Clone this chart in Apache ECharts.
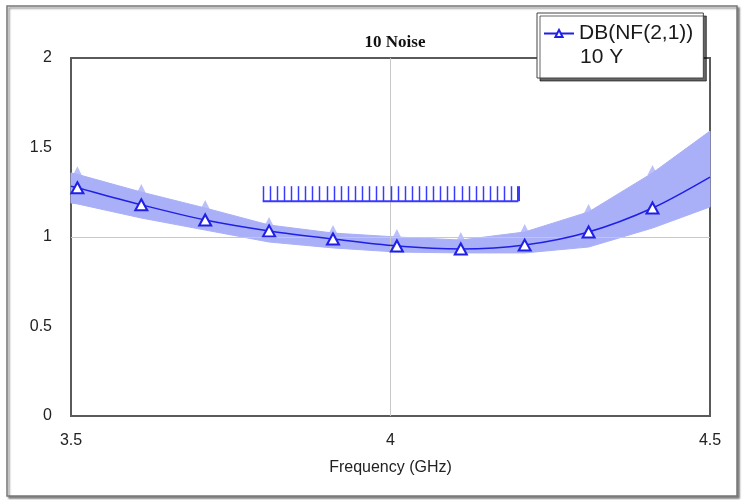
<!DOCTYPE html>
<html>
<head>
<meta charset="utf-8">
<script src="https://cdn.jsdelivr.net/npm/echarts@6/dist/echarts.min.js"></script>
<style>
  html, body { margin: 0; padding: 0; background: #fff; }
  #chart { width: 743px; height: 500px; }
</style>
</head>
<body>
<div id="chart"></div>
<script>
// Frequency sweep (GHz) and nominal noise figure (dB)
const freq = [3.5, 3.51, 3.61, 3.71, 3.81, 3.91, 4.01, 4.11, 4.21, 4.31, 4.41, 4.5];
const nfNominal = [1.284, 1.275, 1.18, 1.095, 1.034, 0.989, 0.95, 0.933, 0.955, 1.028, 1.162, 1.335];
// Spread of the yield traces: upper and lower envelope
const nfUpper = [1.358, 1.35, 1.251, 1.162, 1.067, 1.022, 1.0, 0.983, 1.028, 1.14, 1.358, 1.592];
const nfLower = [1.19, 1.185, 1.106, 1.039, 0.972, 0.939, 0.916, 0.911, 0.911, 0.944, 1.05, 1.168];
// Optimisation goal: NF below 1.2 dB between 3.8 and 4.2 GHz
const goalRange = [3.8, 4.2];
const goalLevel = 1.2;
// Axis ticks
const xTicks = [3.5, 4, 4.5];
const yTicks = [0, 0.5, 1, 1.5, 2];

const BLUE = '#1f1fe6';
const BAND = '#aab0f7';
const LABEL_FONT = 'Liberation Sans';

const chart = echarts.init(document.getElementById('chart'), null, { renderer: 'canvas' });

const lineData = freq.map((f, i) => ({
  value: [f, nfNominal[i]],
  symbol: (i > 0 && i < freq.length - 1) ? 'emptyTriangle' : 'none'
}));

const spikeData = freq.slice(1, -1).map((f, i) => [f, nfUpper[i + 1]]);

const option = {
  animation: false,
  backgroundColor: '#fff',
  title: {
    text: '10 Noise',
    left: 390, top: 29,
    textAlign: 'center',
    textStyle: { fontFamily: 'Liberation Serif', fontWeight: 'bold', fontSize: 17, color: '#111' }
  },
  legend: {
    data: ['DB(NF(2,1))'],
    left: 537, top: 13,
    orient: 'vertical',
    padding: [10, 10, 34, 6],
    itemWidth: 30, itemHeight: 9, itemGap: 4,
    backgroundColor: '#fff',
    borderColor: '#444', borderWidth: 1,
    shadowColor: 'rgba(0,0,0,0.6)', shadowOffsetX: 3, shadowOffsetY: 3, shadowBlur: 0,
    textStyle: { fontFamily: 'Liberation Sans', fontSize: 21, color: '#1a1a1a' }
  },
  grid: {
    left: 71, right: 33, top: 58, bottom: 84,
    show: true, borderColor: '#5a5a5a', borderWidth: 2, backgroundColor: '#fff', z: 1
  },
  xAxis: {
    type: 'value', min: 3.5, max: 4.5, interval: 0.5,
    name: 'Frequency (GHz)', nameLocation: 'middle', nameGap: 44,
    nameTextStyle: { fontFamily: 'Liberation Sans', fontSize: 16, color: '#222' },
    axisLine: { show: false }, axisTick: { show: false }, splitLine: { show: false },
    axisLabel: {
      margin: 17, fontFamily: LABEL_FONT, fontSize: 16, color: '#222',
      formatter: v => (xTicks.includes(v) ? String(v) : '')
    }
  },
  yAxis: {
    type: 'value', min: 0, max: 2, interval: 0.5,
    axisLine: { show: false }, axisTick: { show: false }, splitLine: { show: false },
    axisLabel: {
      margin: 19, fontFamily: LABEL_FONT, fontSize: 16, color: '#222',
      formatter: v => (yTicks.includes(v) ? String(v) : '')
    }
  },
  graphic: [
    {
      type: 'rect', z: -10, silent: true,
      shape: { x: 7, y: 6, width: 730, height: 490 },
      style: { fill: '#fff', stroke: '#777', lineWidth: 1.5,
        shadowColor: 'rgba(0,0,0,0.45)', shadowOffsetX: 2, shadowOffsetY: 2, shadowBlur: 2 }
    },
    {
      type: 'text', z: 100, left: 580, top: 47,
      style: { text: '10 Y', fontFamily: 'Liberation Sans', fontSize: 21, fill: '#1a1a1a' }
    }
  ],
  series: [
    {
      // grid reference lines at 4 GHz and 1 dB
      type: 'line', data: [], silent: true, z: 2,
      markLine: {
        symbol: 'none', silent: true, label: { show: false },
        lineStyle: { color: '#c8c8c8', width: 1, type: 'solid' },
        data: [{ xAxis: 4 }, { yAxis: 1 }]
      }
    },
    {
      // envelope of all yield traces
      type: 'custom', name: 'band', z: 3, silent: true,
      data: [0],
      renderItem: (params, api) => {
        const upper = freq.map((f, i) => api.coord([f, nfUpper[i]]));
        const lower = freq.map((f, i) => api.coord([f, nfLower[i]])).reverse();
        return {
          type: 'polygon',
          shape: { points: upper.concat(lower) },
          style: { fill: BAND, stroke: BAND, lineWidth: 1 }
        };
      }
    },
    {
      // marker tips of the yield traces poking out of the envelope
      type: 'scatter', name: 'spikes', z: 3, silent: true,
      data: spikeData,
      symbol: 'triangle', symbolSize: [10, 10], symbolOffset: [0, -3],
      itemStyle: { color: BAND }
    },
    {
      // goal marker
      type: 'custom', name: 'goal', z: 5, silent: true,
      data: [0],
      renderItem: (params, api) => {
        const p0 = api.coord([goalRange[0], goalLevel]);
        const p1 = api.coord([goalRange[1], goalLevel]);
        const n = 36, h = 15;
        const children = [{
          type: 'line',
          shape: { x1: p0[0], y1: p0[1], x2: p1[0], y2: p1[1] },
          style: { stroke: '#3a3aff', lineWidth: 2 }
        }];
        for (let k = 0; k <= n; k++) {
          const x = Math.round(p0[0] + (p1[0] - p0[0]) * k / n) + 0.5;
          children.push({
            type: 'line',
            shape: { x1: x, y1: p0[1], x2: x, y2: p0[1] - h },
            style: { stroke: '#3a3aff', lineWidth: k === n ? 3 : 1.5 }
          });
        }
        return { type: 'group', children };
      }
    },
    {
      name: 'DB(NF(2,1))', type: 'line', z: 6,
      data: lineData,
      smooth: 0.3,
      symbol: 'emptyTriangle',
      symbolSize: [12, 11],
      lineStyle: { color: BLUE, width: 1.5 },
      itemStyle: { color: BLUE, borderColor: BLUE, borderWidth: 1.5 }
    }
  ]
};

chart.setOption(option);
</script>
</body>
</html>
